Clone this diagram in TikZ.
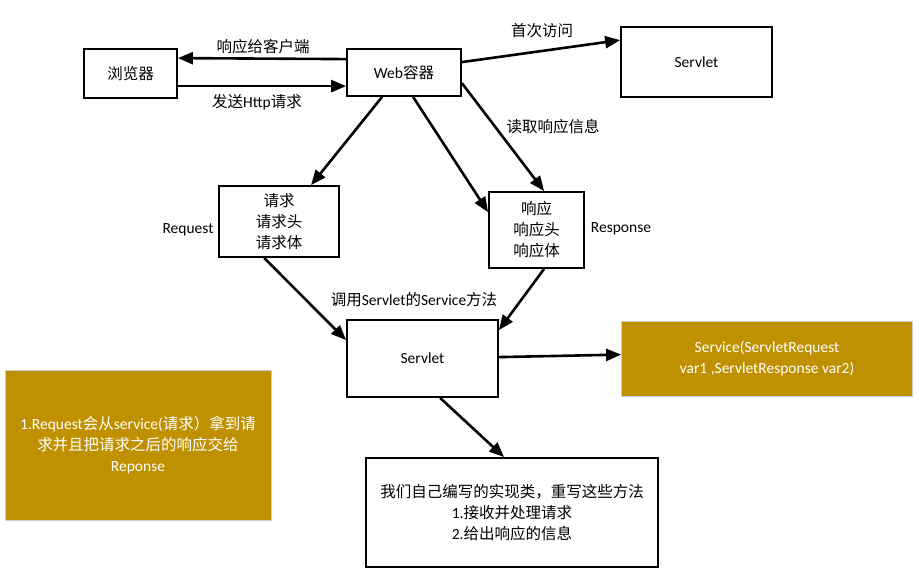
\documentclass[tikz,border=0pt]{standalone}
\usepackage{fontspec}
\setmainfont{Carlito}
\newfontfamily\cjkfont{Noto Sans CJK SC}
\newcommand{\cj}[1]{{\cjkfont #1}}
\usetikzlibrary{arrows.meta,calc}
\definecolor{gold}{HTML}{BF9000}
\definecolor{goldedge}{HTML}{C9CFD6}
\tikzset{
  box/.style={draw=black, line width=1.8pt, fill=white, align=center, inner sep=0pt, font=\fontsize{15.5}{21}\selectfont},
  goldbox/.style={draw=goldedge, line width=0.8pt, fill=gold, text=white, align=center, inner sep=0pt, font=\fontsize{15.5}{21}\selectfont},
  conn/.style={line width=2.6pt, -{Triangle[length=15pt,width=12pt]}},
  lbl/.style={font=\fontsize{15.5}{20}\selectfont, inner sep=0pt}
}
\begin{document}
\begin{tikzpicture}[x=1pt,y=-1pt]
\useasboundingbox (0,0) rectangle (919,570);
% boxes
\node[box, minimum width=93pt, minimum height=49pt] (browser) at (130.5,73.5) {\cj{浏览器}};
\node[box, minimum width=114pt, minimum height=47pt] (web) at (404,72.5) {Web\cj{容器}};
\node[box, minimum width=151pt, minimum height=70pt] (servlet1) at (696.5,62) {Servlet};
\node[box, minimum width=120pt, minimum height=71pt] (req) at (279,221.5) {\cj{请求}\\\cj{请求头}\\\cj{请求体}};
\node[box, minimum width=95pt, minimum height=76pt] (resp) at (536.5,230) {\cj{响应}\\\cj{响应头}\\\cj{响应体}};
\node[box, minimum width=151pt, minimum height=77pt] (servlet2) at (422.5,358.5) {Servlet};
\node[goldbox, minimum width=291pt, minimum height=75pt] (service) at (767,358.5) {Service(ServletRequest\\var1 ,ServletResponse var2)};
\node[goldbox, minimum width=266pt, minimum height=150pt] (note) at (138,445) {1.Request\cj{会从}service(\cj{请求）拿到请}\\\cj{求并且把请求之后的响应交给}\\Reponse};
\node[box, minimum width=292pt, minimum height=109pt] (impl) at (512,512.5) {\cj{我们自己编写的实现类，重写这些方法}\\1.\cj{接收并处理请求}\\2.\cj{给出响应的信息}};
% connectors
\draw[conn] ($(web.north west)+(0,11)$) -- ($(browser.north east)+(0,10)$);
\draw[conn] ($(browser.north east)+(0,38)$) -- ($(web.north west)+(0,38)$);
\draw[conn] ($(web.north east)+(0,14)$) -- ($(servlet1.north west)+(0,14)$);
\draw[conn] ($(web.south west)+(36,0)$) -- ($(req.north west)+(93,0)$);
\draw[conn] ($(web.south west)+(67,0)$) -- ($(resp.north west)+(0,21)$);
\draw[conn] ($(web.north east)+(0,35)$) -- ($(resp.north west)+(56,0)$);
\draw[conn] ($(req.south west)+(46,0)$) -- ($(servlet2.north west)+(0,21)$);
\draw[conn] ($(resp.south west)+(56,0)$) -- ($(servlet2.north east)+(0,11)$);
\draw[conn] ($(servlet2.north east)+(0,38)$) -- ($(service.north west)+(0,34)$);
\draw[conn] ($(servlet2.south west)+(94,0)$) -- ($(impl.north west)+(139,0)$);
% labels
\node[lbl] (l1) at (263,47) {\cj{响应给客户端}};
\node[lbl] (l2) at (257,102) {\cj{发送}Http\cj{请求}};
\node[lbl] (l3) at (542,31) {\cj{首次访问}};
\node[lbl] (l4) at (553,127) {\cj{读取响应信息}};
\node[lbl] (l5) at (414,300) {\cj{调用}Servlet\cj{的}Service\cj{方法}};
\node[lbl] (l6) at (188,230) {Request};
\node[lbl] (l7) at (621,229) {Response};
\end{tikzpicture}
\end{document}
